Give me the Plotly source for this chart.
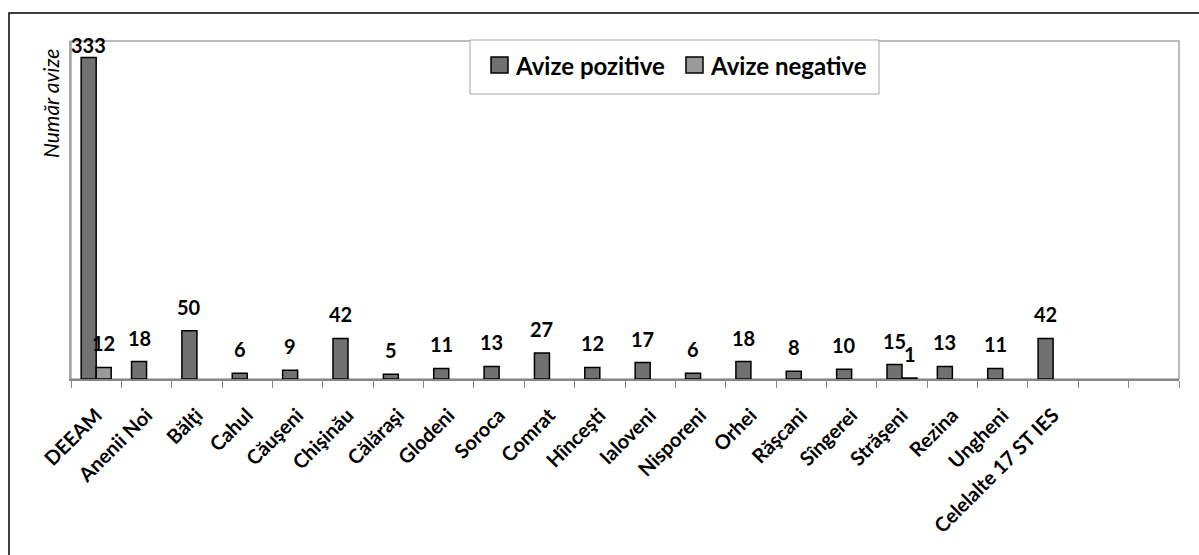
import plotly.graph_objects as go

categories = ["DEEAM", "Anenii Noi", "Bălţi", "Cahul", "Căuşeni", "Chişinău", "Călăraşi",
              "Glodeni", "Soroca", "Comrat", "Hînceşti", "Ialoveni", "Nisporeni", "Orhei",
              "Răşcani", "Sîngerei", "Străşeni", "Rezina", "Ungheni", "Celelalte 17 ST IES"]
pozitive = [333, 18, 50, 6, 9, 42, 5, 11, 13, 27, 12, 17, 6, 18, 8, 10, 15, 13, 11, 42]
negative = [12, None, None, None, None, None, None, None, None, None, None, None, None,
            None, None, None, 1, None, None, None]
n_slots = 22  # two empty category slots at the right end

W, H = 1199, 555
L, R, T, B = 71, 20, 41, 176
plot_w = W - L - R
plot_h = H - T - B
ymax = 350
ppu = plot_h / ymax
slot_px = plot_w / n_slots

POS_COL = "#717171"
NEG_COL = "#9a9a9a"
FONT = "Lato"

xs = list(range(len(categories)))

fig = go.Figure()
fig.add_trace(go.Bar(x=xs, y=pozitive, name="Avize pozitive", marker=dict(color=POS_COL, line=dict(color="black", width=1.5)), showlegend=False))
fig.add_trace(go.Bar(x=xs, y=negative, name="Avize negative", marker=dict(color=NEG_COL, line=dict(color="black", width=1.5)), showlegend=False))

# data labels
bar_px = slot_px * (1 - 0.404) / 2
gap_px = 15
lab_h_px = 13
for series, sh in ((pozitive, -bar_px / 2), (negative, bar_px / 2)):
    for i, v in enumerate(series):
        if v is None:
            continue
        ylab = min(v + gap_px / ppu, ymax - lab_h_px / ppu)
        fig.add_annotation(x=i, y=ylab, text=f"<b>{v}</b>", showarrow=False, xshift=sh,
                           yanchor="bottom", yshift=-5, font=dict(family=FONT, size=20, color="black"))

def px_x(p):
    return (p - L) / plot_w

def px_y(p):
    return (H - B - p) / plot_h

shapes = []
# outer chart border
shapes.append(dict(type="rect", xref="paper", yref="paper", x0=px_x(9), x1=px_x(1210), y0=px_y(566), y1=px_y(13),
                   line=dict(color="black", width=1.5), fillcolor="rgba(0,0,0,0)", layer="below"))
# plot frame
shapes.append(dict(type="rect", xref="paper", yref="paper", x0=0, x1=1, y0=0, y1=1,
                   line=dict(color="#a6a6a6", width=1.5), fillcolor="rgba(0,0,0,0)", layer="below"))
# legend box
shapes.append(dict(type="rect", xref="paper", yref="paper", x0=px_x(470), x1=px_x(879), y0=px_y(94), y1=px_y(40),
                   line=dict(color="#a6a6a6", width=1), fillcolor="white", layer="above"))
shapes.append(dict(type="rect", xref="paper", yref="paper", x0=px_x(491), x1=px_x(508), y0=px_y(73), y1=px_y(57),
                   line=dict(color="black", width=1.5), fillcolor=POS_COL, layer="above"))
shapes.append(dict(type="rect", xref="paper", yref="paper", x0=px_x(686), x1=px_x(703), y0=px_y(73), y1=px_y(57),
                   line=dict(color="black", width=1.5), fillcolor=NEG_COL, layer="above"))

fig.add_annotation(xref="paper", yref="paper", x=px_x(513), y=px_y(65), xanchor="left", yanchor="middle",
                   text="<b>Avize pozitive</b>", showarrow=False, font=dict(family=FONT, size=24, color="black"))
fig.add_annotation(xref="paper", yref="paper", x=px_x(708), y=px_y(65), xanchor="left", yanchor="middle",
                   text="<b>Avize negative</b>", showarrow=False, font=dict(family=FONT, size=24, color="black"))
# y axis title
fig.add_annotation(xref="paper", yref="paper", x=px_x(51), y=px_y(104), xanchor="center", yanchor="middle",
                   text="<i>Număr avize</i>", textangle=-90, showarrow=False, font=dict(family=FONT, size=21, color="black"))

fig.update_layout(
    width=W, height=H,
    margin=dict(l=L, r=R, t=T, b=B, autoexpand=False),
    paper_bgcolor="white", plot_bgcolor="white",
    barmode="group", bargap=0.404, bargroupgap=0,
    shapes=shapes,
    font=dict(family=FONT, color="black"),
    xaxis=dict(range=[-0.5, n_slots - 0.5], tickmode="array", tickvals=xs, automargin=False,
               ticktext=[f"<b>{c}</b>" for c in categories], tickangle=-45, ticks="",
               tickfont=dict(family=FONT, size=20, color="black"), ticklabelstandoff=15,
               showline=True, linecolor="#868686", linewidth=1.5, showgrid=False, zeroline=False,
               minor=dict(tickmode="array", tickvals=[k - 0.5 for k in range(n_slots + 1)], ticks="outside",
                          ticklen=7, tickcolor="#868686", tickwidth=1, showgrid=False)),
    yaxis=dict(range=[0, ymax], showticklabels=False, ticks="", showgrid=False, zeroline=False, automargin=False,
               showline=True, linecolor="#a6a6a6", linewidth=1.5),
)

fig.write_html("out.html", config={"displayModeBar": False}, post_script="document.body.style.margin='0';")
